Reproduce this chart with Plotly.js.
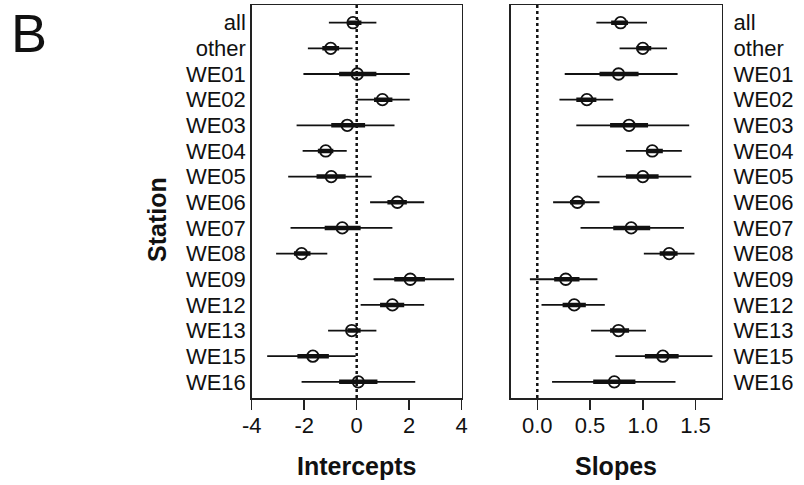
<!DOCTYPE html>
<html>
<head>
<meta charset="utf-8">
<script src="https://cdn.plot.ly/plotly-3.0.1.min.js"></script>
<style>html,body{margin:0;padding:0;background:#fff;}#chart{width:804px;height:485px;}</style>
</head>
<body>
<div id="chart"></div>
<script>
// Stations, top to bottom
const stations = ['all','other','WE01','WE02','WE03','WE04','WE05','WE06','WE07','WE08','WE09','WE12','WE13','WE15','WE16'];

// Intercepts: estimate, 95% and 50% intervals
const intEst  = [-0.14,-0.99, 0.02, 0.98,-0.36,-1.18,-0.97, 1.55,-0.55,-2.10, 2.04, 1.36,-0.19,-1.67, 0.06];
const intLo95 = [-1.06,-1.86,-2.03, 0.00,-2.29,-2.06,-2.61, 0.51,-2.52,-3.07, 0.64, 0.15,-1.09,-3.41,-2.10];
const intHi95 = [ 0.75,-0.16, 2.02, 2.02, 1.44,-0.38, 0.57, 2.57, 1.36,-1.12, 3.71, 2.57, 0.75,-0.04, 2.23];
const intLo50 = [-0.33,-1.31,-0.67, 0.66,-0.97,-1.48,-1.53, 1.17,-1.22,-2.39, 1.43, 0.89,-0.36,-2.26,-0.67];
const intHi50 = [ 0.18,-0.67, 0.75, 1.36, 0.32,-0.89,-0.42, 1.91, 0.15,-1.76, 2.60, 1.81, 0.15,-1.06, 0.79];

// Slopes: estimate, 95% and 50% intervals
const slpEst  = [0.79,1.00,0.77,0.47,0.87,1.09,1.00,0.38,0.89,1.25, 0.27,0.35,0.77,1.19,0.73];
const slpLo95 = [0.56,0.78,0.26,0.21,0.37,0.84,0.57,0.15,0.41,1.01,-0.07,0.04,0.51,0.74,0.14];
const slpHi95 = [1.04,1.23,1.33,0.72,1.44,1.37,1.46,0.59,1.39,1.49, 0.57,0.64,1.03,1.66,1.31];
const slpLo50 = [0.70,0.94,0.59,0.37,0.69,1.04,0.84,0.31,0.72,1.16, 0.16,0.24,0.69,1.02,0.53];
const slpHi50 = [0.86,1.08,0.96,0.56,1.05,1.19,1.15,0.45,1.07,1.33, 0.40,0.46,0.87,1.34,0.93];

const intTicks = [-4,-2,0,2,4];
const intTickText = ['-4','-2','0','2','4'];
const slpTicks = [0,0.5,1,1.5];
const slpTickText = ['0.0','0.5','1.0','1.5'];

const n = stations.length;
const ypos = stations.map((s,i)=> n - i);

function segs(lo, hi){
  const x=[], y=[];
  for(let i=0;i<lo.length;i++){ x.push(lo[i],hi[i],null); y.push(ypos[i],ypos[i],null); }
  return {x,y};
}

const FONT = '"Liberation Sans", Arial, Helvetica, sans-serif';
const traces = [];
function panel(xa, ya, lo95, hi95, lo50, hi50, est){
  const a = segs(lo95, hi95), b = segs(lo50, hi50);
  traces.push({x:a.x, y:a.y, xaxis:xa, yaxis:ya, mode:'lines', line:{color:'#111', width:1.8}, hoverinfo:'skip', showlegend:false});
  traces.push({x:b.x, y:b.y, xaxis:xa, yaxis:ya, mode:'lines', line:{color:'#111', width:4.5}, hoverinfo:'skip', showlegend:false});
  traces.push({x:est, y:ypos, xaxis:xa, yaxis:ya, mode:'markers', marker:{symbol:'circle-open', size:11.5, color:'#111', line:{width:1.8, color:'#111'}}, showlegend:false});
}
panel('x','y', intLo95, intHi95, intLo50, intHi50, intEst);
panel('x2','y2', slpLo95, slpHi95, slpLo50, slpHi50, slpEst);

const yRange = [0.37, 15.69];
const W = 804, H = 485;
const yDom = [(H-398)/H, (H-5)/H];

const axisCommon = {showgrid:false, zeroline:false, showline:true, mirror:true, linecolor:'#222', linewidth:1.5, fixedrange:true};

const layout = {
  width: W, height: H,
  margin: {l:0, r:0, t:0, b:0, pad:0},
  paper_bgcolor:'#fff', plot_bgcolor:'#fff',
  font: {family: FONT, size: 22, color:'#111'},
  showlegend:false,
  xaxis: Object.assign({}, axisCommon, {domain:[251.7/W, 461.7/W], range:[-4,4], tickmode:'array', tickvals:intTicks, ticktext:intTickText, ticks:'outside', ticklen:10, tickwidth:1.5, tickcolor:'#222', anchor:'y', ticklabelstandoff:-3, tickfont:{size:22}}),
  yaxis: Object.assign({}, axisCommon, {domain:yDom, range:yRange, tickmode:'array', tickvals:ypos, ticktext:stations, ticks:'', side:'left', anchor:'x', ticklabelstandoff:0, tickfont:{size:22}}),
  xaxis2: Object.assign({}, axisCommon, {domain:[510.7/W, 721.7/W], range:[-0.252,1.748], tickmode:'array', tickvals:slpTicks, ticktext:slpTickText, ticks:'outside', ticklen:10, tickwidth:1.5, tickcolor:'#222', anchor:'y2', ticklabelstandoff:-3, tickfont:{size:22}}),
  yaxis2: Object.assign({}, axisCommon, {domain:yDom, range:yRange, tickmode:'array', tickvals:ypos, ticktext:stations, ticks:'', side:'right', anchor:'x2', ticklabelstandoff:6, tickfont:{size:22}}),
  shapes: [
    {type:'line', xref:'x', yref:'y domain', x0:0, x1:0, y0:0, y1:1, line:{color:'#111', width:2.5, dash:'dot'}, layer:'below'},
    {type:'line', xref:'x2', yref:'y2 domain', x0:0, x1:0, y0:0, y1:1, line:{color:'#111', width:2.5, dash:'dot'}, layer:'below'}
  ],
  annotations: [
    {text:'B', xref:'paper', yref:'paper', x:28.5/W, y:1-33/H, xanchor:'center', yanchor:'middle', showarrow:false, font:{size:54, family:FONT, color:'#111'}},
    {text:'<b>Station</b>', xref:'paper', yref:'paper', x:157/W, y:1-220/H, xanchor:'center', yanchor:'middle', textangle:-90, showarrow:false, font:{size:25, family:FONT, color:'#111'}},
    {text:'<b>Intercepts</b>', xref:'paper', yref:'paper', x:356.7/W, y:1-466/H, xanchor:'center', yanchor:'middle', showarrow:false, font:{size:25, family:FONT, color:'#111'}},
    {text:'<b>Slopes</b>', xref:'paper', yref:'paper', x:616/W, y:1-466/H, xanchor:'center', yanchor:'middle', showarrow:false, font:{size:25, family:FONT, color:'#111'}}
  ]
};

Plotly.newPlot('chart', traces, layout, {displayModeBar:false, staticPlot:true});
</script>
</body>
</html>
